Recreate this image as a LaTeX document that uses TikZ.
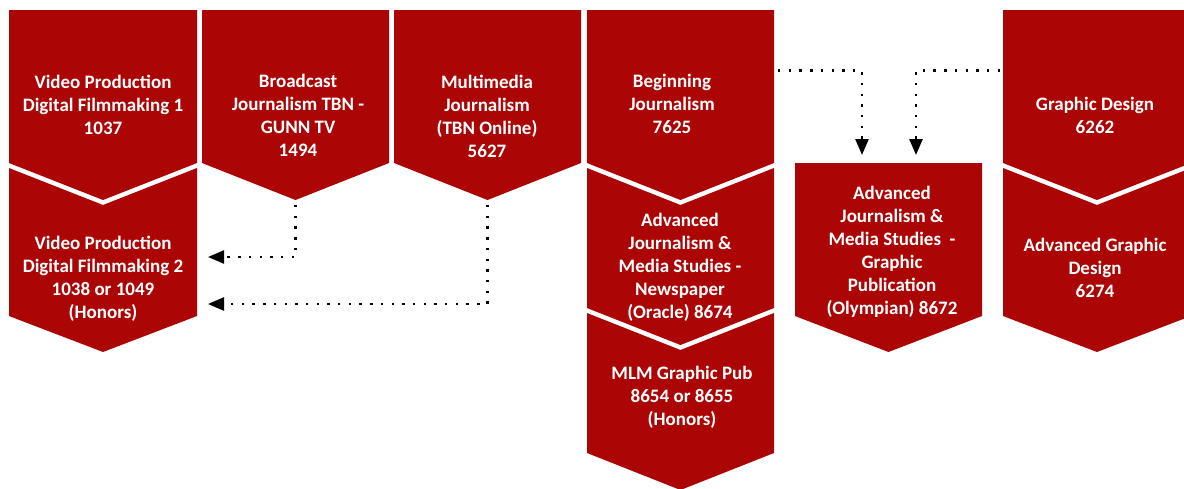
\documentclass[tikz,border=0pt]{standalone}
\usepackage{fontspec}
\setmainfont{Carlito}
\usetikzlibrary{arrows.meta}
\definecolor{chevred}{RGB}{172,5,5}
\tikzset{
  chev/.style={fill=chevred, draw=none},
  lbl/.style={text=white, font=\fontsize{19}{23}\selectfont\bfseries, align=center, inner sep=0pt},
  link/.style={draw=black, line width=2.4pt, dash pattern=on 2.4pt off 8.3pt, -{Triangle[length=16pt,width=13pt]}}
}
\begin{document}
\begin{tikzpicture}[x=1pt,y=-1pt]
\useasboundingbox (0,0) rectangle (1184,488);
\clip (0,0) rectangle (1184,488);
% column 1
\fill[chev] (9,10) -- (197,10) -- (197,163) -- (103,200) -- (9,163) -- cycle;
\fill[chev] (9,168) -- (103,205) -- (197,168) -- (197,316) -- (103,352) -- (9,316) -- cycle;
% column 2
\fill[chev] (202,10) -- (389,10) -- (389,163) -- (295.5,200) -- (202,163) -- cycle;
% column 3
\fill[chev] (394,10) -- (581,10) -- (581,163) -- (487.5,200) -- (394,163) -- cycle;
% column 4
\fill[chev] (587,10) -- (774,10) -- (774,163) -- (680.5,200) -- (587,163) -- cycle;
\fill[chev] (587,168) -- (680.5,205) -- (774,168) -- (774,308) -- (680.5,345) -- (587,308) -- cycle;
\fill[chev] (587,313) -- (680.5,350) -- (774,313) -- (774,453) -- (680.5,490) -- (587,453) -- cycle;
% column 5
\fill[chev] (795,163) -- (982,163) -- (982,316) -- (888.5,352) -- (795,316) -- cycle;
% column 6
\fill[chev] (1003,10) -- (1191,10) -- (1191,163) -- (1097,200) -- (1003,163) -- cycle;
\fill[chev] (1003,168) -- (1097,205) -- (1191,168) -- (1191,316) -- (1097,352) -- (1003,316) -- cycle;

% labels
\node[lbl] (vp1) at (103,104.5) {Video Production\\Digital Filmmaking 1\\1037};
\node[lbl] (vp2) at (103,278.5) {Video Production\\Digital Filmmaking 2\\1038 or 1049\\(Honors)};
\node[lbl] (btv) at (298,115) {Broadcast\\Journalism TBN -\\GUNN TV\\1494};
\node[lbl] (mmj) at (487,116.5) {Multimedia\\Journalism\\(TBN Online)\\5627};
\node[lbl] (bj) at (672,104) {Beginning\\Journalism\\7625};
\node[lbl] (ajn) at (680,267.5) {Advanced\\Journalism \&\\Media Studies -\\Newspaper\\(Oracle) 8674};
\node[lbl] (mlm) at (682,397) {MLM Graphic Pub\\8654 or 8655\\(Honors)};
\node[lbl] (ajg) at (892,251.5) {Advanced\\Journalism \&\\Media Studies\ \ -\\Graphic\\Publication\\(Olympian) 8672};
\node[lbl] (gd) at (1095,115.5) {Graphic Design\\6262};
\node[lbl] (agd) at (1095,268) {Advanced Graphic\\Design\\6274};

% anchor coordinates
\coordinate (btvtip) at (295.5,205);
\coordinate (mmjtip) at (487.5,205);
\coordinate (vp2in1) at (208,257);
\coordinate (vp2in2) at (208,304);
\coordinate (bjout) at (778,70.5);
\coordinate (gdout) at (1000,70.5);
\coordinate (ajgin1) at (862,155);
\coordinate (ajgin2) at (916,155);

% connectors
\draw[link] (btvtip) |- (vp2in1);
\draw[link] (mmjtip) |- (vp2in2);
\draw[link] (bjout) -| (ajgin1);
\draw[link] (gdout) -| (ajgin2);
\end{tikzpicture}
\end{document}
